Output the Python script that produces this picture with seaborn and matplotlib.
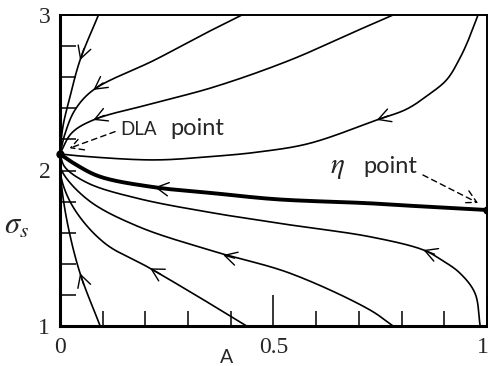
import numpy as np
import pandas as pd
import matplotlib
matplotlib.use("Agg")
import matplotlib.pyplot as plt
import matplotlib.transforms as mtransforms
import seaborn as sns

# ---- flow lines in the (A, sigma_s) plane, each listed from its start to the fixed point ----
curve_a_A = [0.09, 0.047, 0.023, 0.008, 0.003, 0.0]
curve_a_s = [3.0, 2.71, 2.47, 2.30, 2.20, 2.106]

curve_b_A = [0.426, 0.363, 0.222, 0.078, 0.035, 0.012, 0.0]
curve_b_s = [3.0, 2.914, 2.711, 2.518, 2.389, 2.239, 2.106]

curve_c_A = [0.78, 0.726, 0.539, 0.363, 0.222, 0.078, 0.027, 0.0]
curve_c_s = [3.0, 2.936, 2.71, 2.539, 2.434, 2.325, 2.24, 2.106]

curve_d_A = [0.979, 0.958, 0.937, 0.906, 0.862, 0.812, 0.742, 0.585, 0.468, 0.351, 0.222, 0.066, 0.0]
curve_d_s = [3.0, 2.85, 2.725, 2.585, 2.485, 2.395, 2.325, 2.175, 2.12, 2.089, 2.068, 2.089, 2.106]

# separatrix joining the two fixed points
curve_e_A = [1.0, 0.859, 0.726, 0.507, 0.363, 0.222, 0.094, 0.039, 0.0]
curve_e_s = [1.746, 1.767, 1.789, 1.815, 1.853, 1.892, 1.96, 2.035, 2.106]

curve_f_A = [0.984, 0.972, 0.937, 0.894, 0.851, 0.726, 0.539, 0.363, 0.183, 0.066, 0.012, 0.0]
curve_f_s = [1.0, 1.21, 1.339, 1.424, 1.489, 1.574, 1.65, 1.725, 1.82, 1.918, 2.02, 2.10]

curve_g_A = [0.78, 0.726, 0.539, 0.363, 0.183, 0.066, 0.004, 0.0]
curve_g_s = [1.0, 1.103, 1.339, 1.478, 1.64, 1.81, 2.0, 2.10]

curve_h_A = [0.437, 0.363, 0.211, 0.105, 0.035, 0.004, 0.0]
curve_h_s = [1.0, 1.124, 1.371, 1.532, 1.746, 1.94, 2.10]

curve_i_A = [0.094, 0.047, 0.019, 0.004, 0.0]
curve_i_s = [1.0, 1.339, 1.64, 1.896, 2.10]

# arrowhead tips, one per flow line (same order as the curves)
arrow_A = [0.047, 0.078, 0.078, 0.742, 0.222, 0.851, 0.382, 0.211, 0.047]
arrow_s = [2.71, 2.518, 2.325, 2.325, 1.892, 1.489, 1.457, 1.371, 1.339]

# fixed points
dla_A, dla_s = 0.0, 2.106
eta_A, eta_s = 1.0, 1.746

x_ticks = [0, 0.5, 1]
x_tick_labels = ["0", "0.5", "1"]
y_ticks = [1, 2, 3]
y_tick_labels = ["1", "2", "3"]

curves = [
    ("a", curve_a_A, curve_a_s),
    ("b", curve_b_A, curve_b_s),
    ("c", curve_c_A, curve_c_s),
    ("d", curve_d_A, curve_d_s),
    ("e", curve_e_A, curve_e_s),
    ("f", curve_f_A, curve_f_s),
    ("g", curve_g_A, curve_g_s),
    ("h", curve_h_A, curve_h_s),
    ("i", curve_i_A, curve_i_s),
]

XS, YS = 427.0, 155.5  # rough pixel scale per data unit, for smoothing


def smooth(xs, ys, n=24):
    """Centripetal Catmull-Rom through the given points."""
    P = np.column_stack([np.asarray(xs) * XS, np.asarray(ys) * YS])
    P = np.vstack([2 * P[0] - P[1], P, 2 * P[-1] - P[-2]])
    out = []
    for i in range(1, len(P) - 2):
        p0, p1, p2, p3 = P[i - 1], P[i], P[i + 1], P[i + 2]
        t0 = 0.0
        t1 = t0 + np.linalg.norm(p1 - p0) ** 0.5
        t2 = t1 + np.linalg.norm(p2 - p1) ** 0.5
        t3 = t2 + np.linalg.norm(p3 - p2) ** 0.5
        t = np.linspace(t1, t2, n, endpoint=False)[:, None]
        A1 = (t1 - t) / (t1 - t0) * p0 + (t - t0) / (t1 - t0) * p1
        A2 = (t2 - t) / (t2 - t1) * p1 + (t - t1) / (t2 - t1) * p2
        A3 = (t3 - t) / (t3 - t2) * p2 + (t - t2) / (t3 - t2) * p3
        B1 = (t2 - t) / (t2 - t0) * A1 + (t - t0) / (t2 - t0) * A2
        B2 = (t3 - t) / (t3 - t1) * A2 + (t - t1) / (t3 - t1) * A3
        out.append((t2 - t) / (t2 - t1) * B1 + (t - t1) / (t2 - t1) * B2)
    out.append(P[-2][None, :])
    out = np.vstack(out)
    return out[:, 0] / XS, out[:, 1] / YS


sns.set_style("white")
plt.rcParams["font.family"] = ["Lato", "DejaVu Sans"]
plt.rcParams["mathtext.fontset"] = "stix"

fig = plt.figure(figsize=(4.89, 3.66), dpi=100)
ax = fig.add_axes([60 / 489, 40 / 366, 427 / 489, 311 / 366])

rows = []
for name, xa, ya in curves:
    sx, sy = smooth(xa, ya)
    for k, (u, v) in enumerate(zip(sx, sy)):
        rows.append({"curve": name, "order": k, "A": u, "sigma": v})
df = pd.DataFrame(rows)

thin = df[df["curve"] != "e"]
sns.lineplot(data=thin, x="A", y="sigma", units="curve", estimator=None,
             sort=False, color="black", lw=1.2, ax=ax)
sns.lineplot(data=df[df["curve"] == "e"], x="A", y="sigma", estimator=None,
             sort=False, color="black", lw=2.8, ax=ax)

ax.set_xlim(0, 1)
ax.set_ylim(1, 3)

head = "->,head_length=0.55,head_width=0.3"

# open arrowheads along each flow line
fig.canvas.draw()
for (name, _, _), ta, ts in zip(curves, arrow_A, arrow_s):
    c = df[df["curve"] == name]
    pts = ax.transData.transform(np.column_stack([c["A"], c["sigma"]]))
    tip = ax.transData.transform((ta, ts))
    k = int(np.argmin(np.hypot(*(pts - tip).T)))
    k0, k1 = max(k - 2, 0), min(k + 2, len(pts) - 1)
    d = pts[k1] - pts[k0]
    d = d / np.hypot(*d)
    ax.annotate("", xy=(ta, ts), xycoords="data",
                xytext=(-d[0] * 12, -d[1] * 12), textcoords="offset pixels",
                arrowprops=dict(arrowstyle=head, lw=1.0, color="black",
                                mutation_scale=16, shrinkA=0, shrinkB=0))

# fixed points
sns.scatterplot(x=[dla_A, eta_A], y=[dla_s, eta_s], s=36, color="black",
                edgecolor="black", linewidth=0, zorder=5, clip_on=False, ax=ax)

# labels for the fixed points, with dashed pointers
ax.text(0.141, 2.228, "DLA", fontsize=13.5, ha="left", va="baseline")
ax.text(0.258, 2.228, "point", fontsize=17, ha="left", va="baseline")
ax.annotate("", xy=(0.022, 2.143), xytext=(0.129, 2.25),
            arrowprops=dict(arrowstyle=head, lw=1.0, ls=(0, (4, 3)),
                            color="black", mutation_scale=16,
                            shrinkA=0, shrinkB=0))

ax.text(0.633, 1.984, r"$\eta$", fontsize=21, ha="left", va="baseline")
ax.text(0.71, 1.984, "point", fontsize=17, ha="left", va="baseline")
ax.annotate("", xy=(0.979, 1.791), xytext=(0.85, 1.971),
            arrowprops=dict(arrowstyle=head, lw=1.0, ls=(0, (4, 3)),
                            color="black", mutation_scale=16,
                            shrinkA=0, shrinkB=0))

# axes styling: thick frame, inward ticks
for side in ["left", "bottom"]:
    ax.spines[side].set_linewidth(2.2)
for side in ["top", "right"]:
    ax.spines[side].set_linewidth(1.4)
for sp in ax.spines.values():
    sp.set_color("black")
    sp.set_visible(True)

ax.set_xticks(x_ticks)
ax.set_xticklabels(x_tick_labels, family="Liberation Serif", fontsize=17)
ax.set_xticks(np.arange(0.1, 1.0, 0.1), minor=True)
ax.set_yticks(y_ticks)
ax.set_yticklabels(y_tick_labels, family="Liberation Serif", fontsize=17)
ax.set_yticks(np.arange(1.2, 3.0, 0.2), minor=True)
ax.tick_params(axis="x", which="major", direction="in", length=22, width=1.1,
               pad=8, color="black", bottom=True, top=False)
ax.tick_params(axis="x", which="minor", direction="in", length=10.5, width=1.1,
               color="black", bottom=True, top=False)
ax.tick_params(axis="y", which="both", direction="in", length=11.5, width=1.1,
               pad=7, color="black", left=True, right=False)

# keep the last x label inside the canvas
last = ax.get_xticklabels()[-1]
last.set_transform(last.get_transform() +
                   mtransforms.ScaledTranslation(-4 / 100, 0, fig.dpi_scale_trans))

ax.set_xlabel("A", fontsize=14)
ax.xaxis.set_label_coords(0.391, -0.075)
ax.set_ylabel(r"$\sigma_s$", fontsize=22, rotation=0, ha="center", va="center")
ax.yaxis.set_label_coords(-0.101, 0.32)

fig.savefig("out.png", dpi=100)
